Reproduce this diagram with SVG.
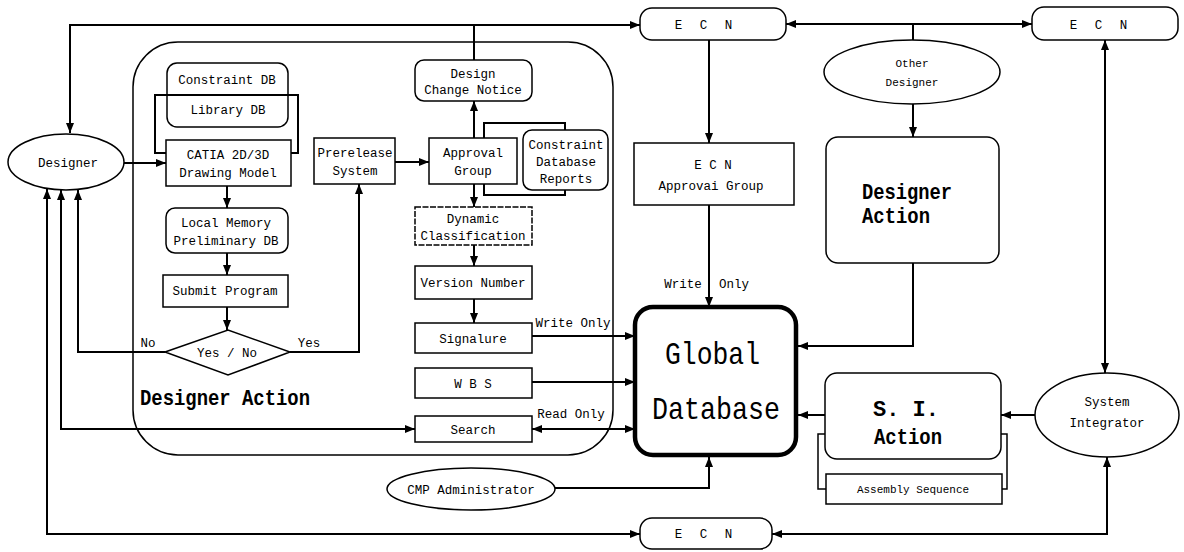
<svg xmlns="http://www.w3.org/2000/svg" width="1184" height="552" viewBox="0 0 1184 552">
<defs>
<marker id="ah" viewBox="0 0 10 8" refX="10" refY="4" markerWidth="10" markerHeight="8" markerUnits="userSpaceOnUse" orient="auto-start-reverse">
<path d="M0,0 L10,4 L0,8 z" fill="#000"/>
</marker>
<style>
.bx{fill:#fff;stroke:#000;stroke-width:1.5}
.ln{fill:none;stroke:#000;stroke-width:2}
.th{fill:none;stroke:#000;stroke-width:1.5}
.t{font-family:"Liberation Mono","DejaVu Sans Mono",monospace;font-size:12.5px;fill:#000;text-anchor:middle}
.s{font-size:11px}
.b{font-family:"Liberation Mono","DejaVu Sans Mono",monospace;font-weight:bold;font-size:22px;fill:#000}
.big{font-family:"Liberation Mono","DejaVu Sans Mono",monospace;font-size:32px;fill:#000}
</style>
</defs>
<rect width="1184" height="552" fill="#fff"/>

<g id="designer-action-frame">
<rect x="133" y="42" width="480" height="413" rx="45" fill="none" stroke="#000" stroke-width="1.5"/>
<text class="b" x="140" y="405" textLength="170" lengthAdjust="spacingAndGlyphs">Designer Action</text>
</g>

<g id="connectors">
<path class="ln" d="M70,133 L70,25 L640,25" marker-start="url(#ah)" marker-end="url(#ah)"/>
<path class="ln" d="M474,60 L474,25"/>
<path class="ln" d="M474,138 L474,101" marker-end="url(#ah)"/>
<path class="ln" d="M124,163 L166,163" marker-end="url(#ah)"/>
<path class="ln" d="M166,153 L155,153 L155,95 L298,95 L298,153 L291,153"/>
<path class="ln" d="M227,186 L227,208" marker-end="url(#ah)"/>
<path class="ln" d="M227,253 L227,275" marker-end="url(#ah)"/>
<path class="ln" d="M227,307 L227,330" marker-end="url(#ah)"/>
<path class="ln" d="M165,352 L78,352 L78,190" marker-end="url(#ah)"/>
<path class="ln" d="M290,352 L359,352 L359,184" marker-end="url(#ah)"/>
<path class="ln" d="M395,162 L429,162" marker-end="url(#ah)"/>
<path class="ln" d="M484,138 L484,123 L565,123 L565,130"/>
<path class="ln" d="M484,184 L484,195 L565,195 L565,190"/>
<path class="ln" d="M474,184 L474,207" marker-end="url(#ah)"/>
<path class="ln" d="M474,245 L474,266" marker-end="url(#ah)"/>
<path class="ln" d="M474,299 L474,323" marker-end="url(#ah)"/>
<path class="ln" d="M532,336 L635,336" marker-end="url(#ah)"/>
<path class="ln" d="M532,382 L635,382" marker-end="url(#ah)"/>
<path class="ln" d="M532,429 L635,429" marker-start="url(#ah)" marker-end="url(#ah)"/>
<path class="ln" d="M61,190 L61,429 L415,429" marker-start="url(#ah)" marker-end="url(#ah)"/>
<path class="ln" d="M47,189 L47,534 L640,534" marker-start="url(#ah)" marker-end="url(#ah)"/>
<path class="ln" d="M709,40 L709,143" marker-end="url(#ah)"/>
<path class="ln" d="M709,205 L709,307" marker-end="url(#ah)"/>
<path class="ln" d="M786,24 L1032,24" marker-start="url(#ah)" marker-end="url(#ah)"/>
<path class="ln" d="M913,24 L913,40"/>
<path class="ln" d="M913,104 L913,137" marker-end="url(#ah)"/>
<path class="ln" d="M913,263 L913,346 L798,346" marker-end="url(#ah)"/>
<path class="ln" d="M1105,40 L1105,373" marker-start="url(#ah)" marker-end="url(#ah)"/>
<path class="ln" d="M1035,415 L1001,415" marker-end="url(#ah)"/>
<path class="ln" d="M825,415 L798,415" marker-end="url(#ah)"/>
<path class="th" d="M825,434 L818,434 L818,489 L826,489"/>
<path class="th" d="M1001,434 L1007,434 L1007,489 L1002,489"/>
<path class="ln" d="M555,488 L709,488 L709,457" marker-end="url(#ah)"/>
<path class="ln" d="M1107,457 L1107,534 L772,534" marker-start="url(#ah)" marker-end="url(#ah)"/>
<text class="t" x="573" y="327">Write Only</text>
<text class="t" x="683" y="288">Write</text>
<text class="t" x="734" y="288">Only</text>
<text class="t" x="571" y="418">Read Only</text>
<text class="t" x="148" y="347">No</text>
<text class="t" x="309" y="347">Yes</text>
</g>

<g id="designer">
<ellipse cx="66" cy="162" rx="58" ry="28" class="bx"/>
<text class="t" x="68" y="167">Designer</text>
</g>

<g id="constraint-db">
<rect x="167" y="63" width="121" height="64" rx="10" class="bx"/>
<path class="ln" d="M155,95 L298,95"/>
<text class="t" x="227" y="84">Constraint DB</text>
<text class="t" x="228" y="114">Library DB</text>
</g>

<g id="catia">
<rect x="166" y="140" width="125" height="46" class="bx"/>
<text class="t" x="228" y="159">CATIA 2D/3D</text>
<text class="t" x="228" y="177">Drawing Model</text>
</g>

<g id="local-memory">
<rect x="166" y="208" width="122" height="45" rx="9" class="bx"/>
<text class="t" x="226" y="227">Local Memory</text>
<text class="t" x="226" y="245">Preliminary DB</text>
</g>

<g id="submit">
<rect x="163" y="275" width="125" height="32" class="bx"/>
<text class="t" x="225" y="295">Submit Program</text>
</g>

<g id="yesno">
<path d="M165,352 L228,330 L290,352 L228,375 z" class="bx"/>
<text class="t" x="227" y="357">Yes / No</text>
</g>

<g id="prerelease">
<rect x="314" y="138" width="81" height="46" class="bx"/>
<text class="t" x="355" y="157">Prerelease</text>
<text class="t" x="355" y="175">System</text>
</g>

<g id="dcn">
<rect x="415" y="60" width="117" height="41" rx="9" class="bx"/>
<text class="t" x="473" y="78">Design</text>
<text class="t" x="473" y="94">Change Notice</text>
</g>

<g id="approval">
<rect x="429" y="138" width="88" height="46" class="bx"/>
<text class="t" x="473" y="157">Approval</text>
<text class="t" x="473" y="175">Group</text>
</g>

<g id="cdr">
<rect x="523" y="130" width="85" height="60" rx="9" class="bx"/>
<text class="t" x="566" y="149">Constraint</text>
<text class="t" x="566" y="166">Database</text>
<text class="t" x="566" y="183">Reports</text>
</g>

<g id="dynamic">
<rect x="415" y="207" width="117" height="38" class="bx" stroke-dasharray="6,1.5"/>
<text class="t" x="473" y="223">Dynamic</text>
<text class="t" x="473" y="240">Classification</text>
</g>

<g id="version">
<rect x="415" y="266" width="117" height="33" class="bx"/>
<text class="t" x="473" y="287">Version Number</text>
</g>

<g id="signature">
<rect x="415" y="323" width="117" height="30" class="bx"/>
<text class="t" x="473" y="343">Signalure</text>
</g>

<g id="wbs">
<rect x="415" y="368" width="117" height="30" class="bx"/>
<text class="t" x="473" y="388">W B S</text>
</g>

<g id="search">
<rect x="415" y="416" width="117" height="26" class="bx"/>
<text class="t" x="473" y="434">Search</text>
</g>

<g id="ecn1">
<rect x="640" y="8" width="146" height="32" rx="12" class="bx"/>
<text class="t" x="706" y="29" letter-spacing="5">E C N</text>
</g>

<g id="ecn-approval">
<rect x="634" y="143" width="160" height="62" class="bx"/>
<text class="t" x="713" y="169">E C N</text>
<text class="t" x="711" y="190">Approvai Group</text>
</g>

<g id="ecn2">
<rect x="1032" y="7" width="146" height="33" rx="12" class="bx"/>
<text class="t" x="1101" y="29" letter-spacing="5">E C N</text>
</g>

<g id="other-designer">
<ellipse cx="912" cy="72" rx="88" ry="32" class="bx"/>
<text class="t s" x="912" y="67">Other</text>
<text class="t s" x="912" y="86">Designer</text>
</g>

<g id="designer-action-right">
<rect x="826" y="137" width="173" height="126" rx="12" class="bx"/>
<text class="b" x="862" y="199" textLength="90" lengthAdjust="spacingAndGlyphs">Designer</text>
<text class="b" x="862" y="223" textLength="68" lengthAdjust="spacingAndGlyphs">Action</text>
</g>

<g id="global-db">
<rect x="635" y="307" width="161" height="148" rx="18" fill="#fff" stroke="#000" stroke-width="4.5"/>
<text class="big" x="665" y="364" textLength="95" lengthAdjust="spacingAndGlyphs">Global</text>
<text class="big" x="652" y="419" textLength="128" lengthAdjust="spacingAndGlyphs">Database</text>
</g>

<g id="si-action">
<rect x="825" y="373" width="176" height="86" rx="12" class="bx"/>
<text class="b" x="906" y="416" text-anchor="middle">S. I.</text>
<text class="b" x="908" y="444" text-anchor="middle" textLength="68" lengthAdjust="spacingAndGlyphs">Action</text>
</g>

<g id="assembly">
<rect x="826" y="474" width="176" height="30" class="bx"/>
<text class="t s" x="913" y="493">Assembly Sequence</text>
</g>

<g id="system-integrator">
<ellipse cx="1107" cy="415" rx="72" ry="42" class="bx"/>
<text class="t" x="1107" y="406">System</text>
<text class="t" x="1107" y="427">Integrator</text>
</g>

<g id="cmp">
<ellipse cx="471" cy="489" rx="84" ry="21" class="bx"/>
<text class="t" x="471" y="494">CMP Administrator</text>
</g>

<g id="ecn3">
<rect x="640" y="518" width="132" height="31" rx="12" class="bx"/>
<text class="t" x="706" y="538" letter-spacing="5">E C N</text>
</g>
</svg>
